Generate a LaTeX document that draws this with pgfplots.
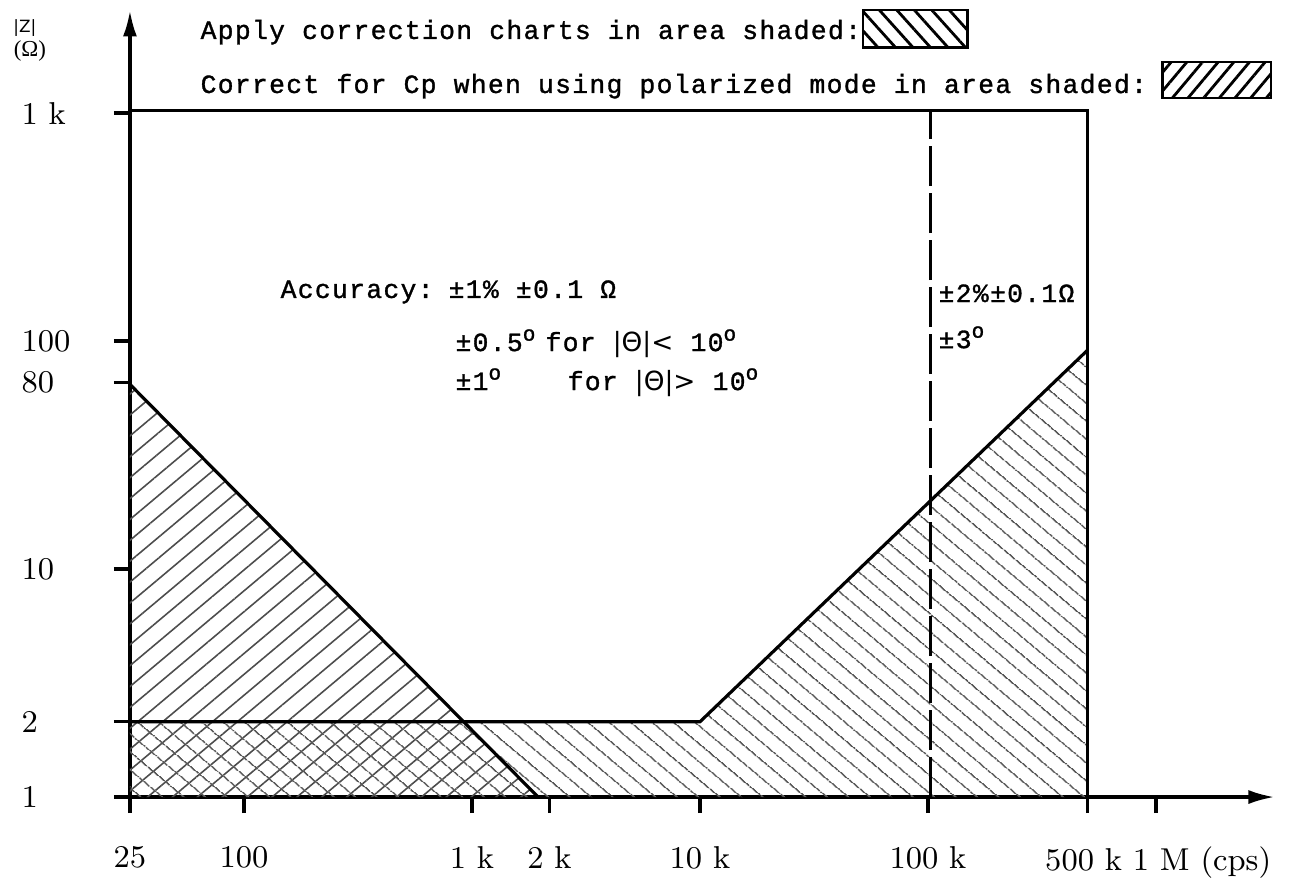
\documentclass[border=0pt]{standalone}
\usepackage{fontspec}
\usepackage{pgfplots}
\pgfplotsset{compat=1.18}
\usetikzlibrary{patterns.meta,arrows.meta}
\newfontfamily\tw[LetterSpace=5,FakeBold=1.2]{Liberation Mono}
\newfontfamily\dv{DejaVu Sans}
\newfontfamily\ls{Liberation Serif}
\newcommand\twf{\fontsize{7.5}{8}\tw}
\newcommand\dg{\raisebox{0.75ex}{\fontsize{6}{6}\selectfont o}}
\begin{document}
\begin{tikzpicture}
\begin{axis}[
  x=2.28cm, y=2.28cm,
  xmin=1.5, xmax=6.52, ymin=0, ymax=3.45,
  axis lines=left,
  axis line style={line width=0.9pt, -{Latex[length=0.26cm,width=0.14cm]}},
  clip=false,
  tick align=outside,
  major tick length=0.16cm,
  tick style={line width=0.9pt, black},
  xtick={1.5,2,3,3.34,4,5},
  xticklabels={25,100,1 k,2 k,10 k,100 k},
  extra x ticks={5.70,6.0},
  extra x tick labels={500 k\ 1 M\ (cps),{}},
  extra x tick style={xticklabel style={anchor=north west, xshift=-0.43cm}},
  ytick={0,0.33,1,1.82,2,3},
  yticklabels={1,2,10,80,100,1 k},
  xticklabel style={font=\fontsize{9}{10}\selectfont, inner sep=0pt, anchor=north, yshift=-0.33cm},
  yticklabel style={font=\fontsize{9}{10}\selectfont, inner sep=0pt, anchor=west, xshift=-0.93cm},
]
% shaded areas
\addplot[draw=none, pattern={Lines[angle=40,distance=0.16cm,line width=0.45pt]}, pattern color=black!70]
  coordinates {(1.5,1.81) (3.29,0) (1.5,0)} --cycle;
\addplot[draw=none, pattern={Lines[angle=-40,distance=0.14cm,line width=0.45pt]}, pattern color=black!65]
  coordinates {(1.5,0.33) (4,0.33) (5.70,1.96) (5.70,0) (1.5,0)} --cycle;
% boundaries
\addplot[line width=0.9pt] coordinates {(1.5,1.81) (3.29,0)};
\addplot[line width=0.9pt] coordinates {(1.5,0.33) (4,0.33) (5.70,1.96)};
\addplot[line width=0.9pt] coordinates {(1.5,3.01) (5.70,3.01) (5.70,0)};
\addplot[line width=0.9pt, dash pattern=on 0.4cm off 0.07cm] coordinates {(5.01,0) (5.01,3.01)};
% legend texts and swatches
\node[anchor=base west, inner sep=0pt, font=\twf] at (axis cs:1.807,3.325) {Apply correction charts in area shaded:};
\node[anchor=base west, inner sep=0pt, font=\twf] at (axis cs:1.807,3.088) {Correct for Cp when using polarized mode in area shaded:};
\draw[line width=0.8pt, pattern={Lines[angle=-48,distance=0.13cm,line width=0.8pt]}]
  (axis cs:4.715,3.452) rectangle (axis cs:5.175,3.289);
\draw[line width=0.8pt, pattern={Lines[angle=50,distance=0.12cm,line width=0.8pt]}]
  (axis cs:6.030,3.224) rectangle (axis cs:6.505,3.066);
% axis title
\node[font=\fontsize{4.8}{5}\dv] at (axis cs:1.039,3.373) {|Z|};
\node[font=\fontsize{6.5}{7}\ls] at (axis cs:1.061,3.272) {(Ω)};
% accuracy texts
\node[anchor=base west, inner sep=0pt, font=\twf] at (axis cs:2.158,2.189) {Accuracy:};
\node[anchor=base west, inner sep=0pt, font=\twf] at (axis cs:2.895,2.189) {±1\% ±0.1 Ω};
\node[anchor=base west, inner sep=0pt, font=\twf] at (axis cs:2.925,1.956) {±0.5\dg};
\node[anchor=base west, inner sep=0pt, font=\twf] at (axis cs:3.320,1.956) {for {\dv|Θ|}{\dv <} 10\dg};
\node[anchor=base west, inner sep=0pt, font=\twf] at (axis cs:2.925,1.785) {±1\dg};
\node[anchor=base west, inner sep=0pt, font=\twf] at (axis cs:3.417,1.785) {for {\dv|Θ|}{\dv >} 10\dg};
\node[anchor=base west, inner sep=0pt, font=\twf] at (axis cs:5.044,2.171) {±2\%±0.1Ω};
\node[anchor=base west, inner sep=0pt, font=\twf] at (axis cs:5.044,1.969) {±3\dg};
% page frame
\path (axis cs:0.930,3.496) rectangle (axis cs:6.610,-0.360);
\end{axis}
\end{tikzpicture}
\end{document}
